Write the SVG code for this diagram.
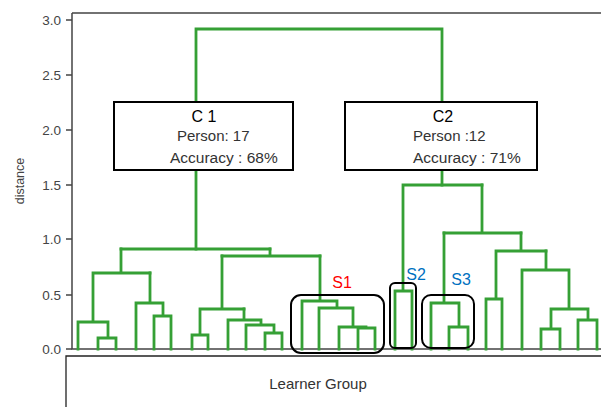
<svg xmlns="http://www.w3.org/2000/svg" width="601" height="407" viewBox="0 0 601 407">
<style>
.ax{stroke:#444;stroke-width:1.5;fill:none}
.tk{font-family:"Liberation Sans",Arial,sans-serif;font-size:13.5px;fill:#444;text-anchor:end}
.ln{stroke:#35a035;stroke-width:2.8;fill:none;stroke-linejoin:miter;stroke-linecap:square}
.box{fill:#fff;stroke:#000;stroke-width:2}
.sb{fill:none;stroke:#000;stroke-width:2}
.t{font-family:"Liberation Sans",Arial,sans-serif;fill:#333}
.k{fill:#000}
.red{fill:#ff0000}
.blue{fill:#0070c0}
.g{fill:#444}
</style>
<rect width="601" height="407" fill="#fff"/>
<g id="axes">
  <path class="ax" d="M72,13H601M72,13V349H601"/>
  <path class="ax" d="M66,20H72M66,75H72M66,130H72M66,185H72M66,239H72M66,295H72M66,349H72"/>
  <text class="tk" x="61" y="25">3.0</text>
  <text class="tk" x="61" y="80">2.5</text>
  <text class="tk" x="61" y="135">2.0</text>
  <text class="tk" x="61" y="190">1.5</text>
  <text class="tk" x="61" y="244">1.0</text>
  <text class="tk" x="61" y="300">0.5</text>
  <text class="tk" x="61" y="354">0.0</text>
  <text class="t g" transform="translate(24,181) rotate(-90)" text-anchor="middle" font-size="12.5">distance</text>
  <path d="M66,407V356H601" fill="none" stroke="#222" stroke-width="1.3"/>
  <text class="t" x="318" y="389" text-anchor="middle" font-size="15">Learner Group</text>
</g>
<g id="connectors">
  <path class="ln" d="M196,249V29H442V185"/>
  <!-- C1 -->
  <path class="ln" d="M121,249H270"/>
  <path class="ln" d="M121,249V273M93,273H150M93,273V322M78,322H108M78,322V349M108,322V338M98,338H116M98,338V349M116,338V349"/>
  <path class="ln" d="M150,273V303M136,303H163M136,303V349M163,303V316M154,316H171M154,316V349M171,316V349"/>
  <path class="ln" d="M270,249V256M222,256H320"/>
  <path class="ln" d="M222,256V309M200,309H244M200,309V335M192,335H208M192,335V349M208,335V349"/>
  <path class="ln" d="M244,309V320M228,320H261M228,320V349M261,320V325M246,325H274M246,325V349M274,325V333M265,333H282M265,333V349M282,333V349"/>
  <path class="ln" d="M320,256V301M302,301H337M302,301V349M337,301V308M319,308H353M319,308V349M353,308V327M339,327H366M339,327V349M366,327V328M358,328H375M358,328V349M375,328V349"/>
  <!-- C2 -->
  <path class="ln" d="M403,185H482M403,185V291M395,291H412M395,291V349M412,291V349"/>
  <path class="ln" d="M482,185V233M444,233H521"/>
  <path class="ln" d="M444,233V303M431,303H459M431,303V349M459,303V327M449,327H468M449,327V349M468,327V349"/>
  <path class="ln" d="M521,233V251M496,251H546M496,251V299M486,299H502M486,299V349M502,299V349"/>
  <path class="ln" d="M546,251V270M522,270H569M522,270V349M569,270V309M551,309H588M551,309V329M541,329H560M541,329V349M560,329V349M588,309V320M578,320H597M578,320V349M597,320V349"/>
</g>
<g id="C1">
  <rect class="box" x="114" y="102" width="179" height="68"/>
  <text class="t k" x="204" y="122" text-anchor="middle" font-size="16">C 1</text>
  <text class="t" x="177" y="141" font-size="15">Person: 17</text>
  <text class="t" x="170" y="163" font-size="15.5">Accuracy : 68%</text>
</g>
<g id="C2">
  <rect class="box" x="345" y="102" width="192" height="68"/>
  <text class="t k" x="443" y="122" text-anchor="middle" font-size="16">C2</text>
  <text class="t" x="413" y="141" font-size="15">Person :12</text>
  <text class="t" x="413" y="163" font-size="15.5">Accuracy : 71%</text>
</g>
<g id="S1">
  <rect class="sb" x="291" y="295" width="93" height="58" rx="10"/>
  <text class="t red" x="342" y="288" text-anchor="middle" font-size="16">S1</text>
</g>
<g id="S2">
  <rect class="sb" x="390" y="283" width="26" height="65" rx="5"/>
  <text class="t blue" x="416" y="280" text-anchor="middle" font-size="16">S2</text>
</g>
<g id="S3">
  <rect class="sb" x="422" y="295" width="52" height="53" rx="9"/>
  <text class="t blue" x="461" y="285" text-anchor="middle" font-size="16">S3</text>
</g>
</svg>
